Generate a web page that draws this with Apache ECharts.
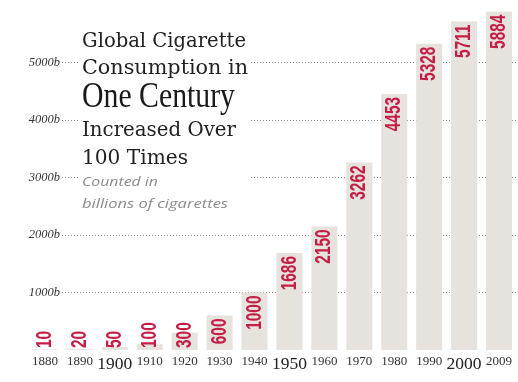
<!DOCTYPE html>
<html><head><meta charset="utf-8">
<script src="https://cdn.jsdelivr.net/npm/echarts@6/dist/echarts.min.js"></script>
<style>html,body{margin:0;padding:0;background:#fff}#c{width:518px;height:382px}</style>
</head><body><div id="c"></div>
<script>
// ---- data ----
const years = ['1880','1890','1900','1910','1920','1930','1940','1950','1960','1970','1980','1990','2000','2009'];
const consumption = [10,20,50,100,300,600,1000,1686,2150,3262,4453,5328,5711,5884];
const majorYears = ['1900','1950','2000'];
const yAxisMax = 6000;
const yAxisStep = 1000;
const titleLines = ['Global Cigarette','Consumption in','One Century','Increased Over','100 Times'];
const subtitleLines = ['Counted in','billions of cigarettes'];

// ---- helpers ----
const mctx = document.createElement('canvas').getContext('2d');
function measure(text, font){ mctx.font = font; return mctx.measureText(text).width; }
function line(text, font, x, yMid, targetW, color){
  const w = measure(text, font);
  return { type:'text', x:x, y:yMid, scaleX: targetW / w, z:101,
    style:{ text:text, font:font, fill:color, align:'left', verticalAlign:'middle' } };
}
const serif = 'DejaVu Serif';
const labelFont = 'bold 22px "Liberation Sans", sans-serif';
const labelColor = '#c41e46';
const yearFont = 'Liberation Serif';

const chart = echarts.init(document.getElementById('c'), null, {renderer:'canvas'});
const gridTop = 5, gridBottom = 32;

const option = {
  animation:false,
  backgroundColor:'#fff',
  grid:[
    {left:27.5, right:1.5, top:gridTop, bottom:gridBottom},
    {left:62, right:0, top:gridTop, bottom:gridBottom}
  ],
  xAxis:[
    {type:'category', gridIndex:0, data:years,
     axisLine:{show:false}, axisTick:{show:false}, splitLine:{show:false},
     axisLabel:{interval:0, hideOverlap:false, margin:5, color:'#333', fontFamily:yearFont, fontSize:13,
       formatter: v => majorYears.includes(v) ? '{big|' + v + '}' : v,
       rich:{ big:{fontSize:17.5, fontFamily:yearFont, color:'#222'} } }},
    {type:'value', gridIndex:1, show:false, min:0, max:1}
  ],
  yAxis:[
    {type:'value', gridIndex:0, min:0, max:yAxisMax, interval:yAxisStep, show:false},
    {type:'value', gridIndex:1, min:0, max:yAxisMax, interval:yAxisStep,
     axisLine:{show:false}, axisTick:{show:false},
     splitLine:{show:true, showMinLine:false, showMaxLine:false,
       lineStyle:{color:'#8a8a8a', width:1, type:[1,2]}},
     axisLabel:{margin:2, color:'#333', fontFamily:'Liberation Serif', fontStyle:'italic', fontSize:12.5,
       showMinLabel:false, showMaxLabel:false, formatter: v => v + 'b'}}
  ],
  series:[
    {type:'bar', xAxisIndex:0, yAxisIndex:0, data:consumption, barWidth:26,
     itemStyle:{color:'#e6e2de'}, z:2},
    {type:'custom', xAxisIndex:0, yAxisIndex:0, z:5,
     data: consumption.map((v,i)=>[i,v]),
     renderItem: (params, api) => {
       const i = api.value(0), v = api.value(1);
       const top = api.coord([i, v]);
       const base = api.coord([i, 0]);
       const txt = String(v);
       const sx = 0.7;
       const len = measure(txt, labelFont) * sx;
       const barH = base[1] - top[1];
       const atTop = barH > len + 6;
       return { type:'text', x: top[0], y: atTop ? top[1] + 3 : base[1] - 2,
         rotation: Math.PI/2, scaleX: sx,
         style:{ text:txt, font:labelFont, fill:labelColor,
           align: atTop ? 'right' : 'left', verticalAlign:'middle' } };
     }}
  ],
  graphic:[
    {type:'rect', shape:{x:80, y:26, width:170, height:190}, style:{fill:'#fff'}, z:100},
    line(titleLines[0], '19.5px "' + serif + '"', 82, 42, 164, '#222'),
    line(titleLines[1], '19.5px "' + serif + '"', 82, 69, 166, '#222'),
    line(titleLines[2], '36px "Liberation Serif"', 82, 98, 153, '#1a1a1a'),
    line(titleLines[3], '19.5px "' + serif + '"', 82, 131, 154, '#222'),
    line(titleLines[4], '19.5px "' + serif + '"', 82, 159, 106, '#222'),
    line(subtitleLines[0], 'italic 13.5px "Open Sans"', 82, 182.5, 76, '#8a8a8a'),
    line(subtitleLines[1], 'italic 13.5px "Open Sans"', 82, 204, 146, '#8a8a8a')
  ]
};
chart.setOption(option);
</script></body></html>
